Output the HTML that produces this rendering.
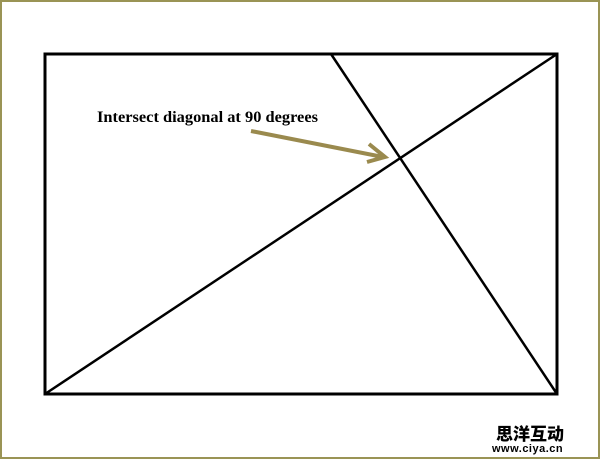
<!DOCTYPE html>
<html><head><style>
html,body{margin:0;padding:0;background:#fff}
.wrap{position:relative;width:600px;height:459px;overflow:hidden}
</style></head><body><div class="wrap">
<svg width="600" height="459" xmlns="http://www.w3.org/2000/svg" style="position:absolute;left:0;top:0">
<rect x="1" y="1" width="598" height="457" fill="#fff" stroke="#9a9455" stroke-width="2"/>
<rect x="45" y="54" width="512" height="340" fill="none" stroke="#000" stroke-width="3"/>
<line x1="45" y1="394" x2="557" y2="54" stroke="#000" stroke-width="2.5"/>
<line x1="331" y1="54" x2="557" y2="394" stroke="#000" stroke-width="2.5"/>
<line x1="251" y1="131" x2="383" y2="157" stroke="#9a8a4e" stroke-width="4"/>
<polyline points="369,144 385,157 367,162" fill="none" stroke="#9a8a4e" stroke-width="4"/>
<text x="97" y="122" font-family="Liberation Serif, serif" font-weight="bold" font-size="15.5" fill="#000" textLength="221" lengthAdjust="spacingAndGlyphs">Intersect diagonal at 90 degrees</text>
<text x="496" y="440" font-family="Noto Sans CJK SC, sans-serif" font-weight="900" font-size="17" fill="#000">思洋互动</text>
<text x="492" y="452" font-family="Liberation Sans, sans-serif" font-weight="bold" font-size="11" fill="#000" letter-spacing="0.5">www.ciya.cn</text>
</svg>
</div></body></html>
